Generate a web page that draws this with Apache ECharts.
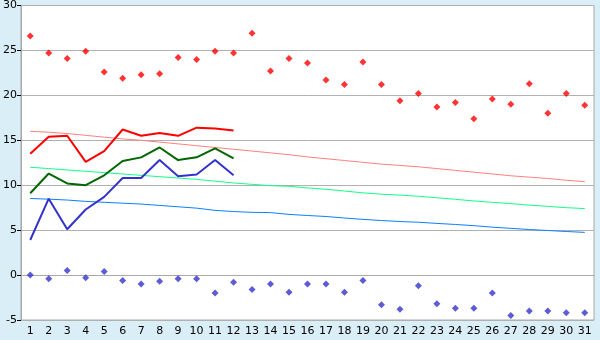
<!DOCTYPE html>
<html>
<head>
<meta charset="utf-8">
<script src="https://cdn.jsdelivr.net/npm/echarts@6/dist/echarts.min.js"></script>
<style>
  html, body { margin: 0; padding: 0; background: #d9eef6; }
  #temp-chart { width: 600px; height: 340px; }
</style>
</head>
<body>
<div id="temp-chart"></div>
<script>
const days = ['1', '2', '3', '4', '5', '6', '7', '8', '9', '10', '11', '12', '13', '14', '15', '16',
  '17', '18', '19', '20', '21', '22', '23', '24', '25', '26', '27', '28', '29', '30', '31'];
const yTicks = [-5, 0, 5, 10, 15, 20, 25, 30];

// record highs / lows (dots)
const recordMax = [26.6, 24.7, 24.1, 24.9, 22.6, 21.9, 22.3, 22.4, 24.2, 24.0, 24.9, 24.7, 26.9, 22.7, 24.1, 23.6,
  21.7, 21.2, 23.7, 21.2, 19.4, 20.2, 18.7, 19.2, 17.4, 19.6, 19.0, 21.3, 18.0, 20.2, 18.9];
const recordMin = [0.0, -0.4, 0.5, -0.3, 0.4, -0.6, -1.0, -0.7, -0.4, -0.4, -2.0, -0.8, -1.6, -1.0, -1.9, -1.0,
  -1.0, -1.9, -0.6, -3.3, -3.8, -1.2, -3.2, -3.7, -3.7, -2.0, -4.5, -4.0, -4.0, -4.2, -4.2];

// current month (days 1-12)
const curMax = [13.5, 15.4, 15.5, 12.6, 13.8, 16.2, 15.5, 15.8, 15.5, 16.4, 16.3, 16.1];
const curMean = [9.1, 11.3, 10.2, 10.0, 11.1, 12.7, 13.1, 14.2, 12.8, 13.1, 14.1, 13.0];
const curMin = [3.9, 8.5, 5.1, 7.3, 8.7, 10.8, 10.8, 12.8, 11.0, 11.2, 12.8, 11.1];

// normals
const normMax = [16.0, 15.9, 15.75, 15.55, 15.35, 15.15, 15.0, 14.8, 14.6, 14.4, 14.2, 14.0, 13.8, 13.6, 13.4, 13.15,
  12.95, 12.75, 12.55, 12.35, 12.2, 12.05, 11.85, 11.65, 11.45, 11.25, 11.05, 10.9, 10.75, 10.55, 10.4];
const normMean = [12.0, 11.85, 11.7, 11.55, 11.4, 11.25, 11.1, 10.95, 10.8, 10.65, 10.45, 10.25, 10.1, 9.95, 9.88, 9.7,
  9.55, 9.35, 9.15, 9.0, 8.9, 8.77, 8.6, 8.43, 8.25, 8.1, 7.95, 7.78, 7.65, 7.5, 7.4];
const normMin = [8.52, 8.45, 8.35, 8.2, 8.1, 8.0, 7.9, 7.75, 7.6, 7.45, 7.2, 7.07, 6.98, 6.95, 6.75, 6.63,
  6.52, 6.35, 6.2, 6.07, 5.96, 5.88, 5.75, 5.63, 5.5, 5.33, 5.2, 5.07, 4.96, 4.85, 4.75];

const chartDom = document.getElementById('temp-chart');
const myChart = echarts.init(chartDom, null, { renderer: 'canvas' });

function lineSeries(data, color, width) {
  return {
    type: 'line',
    data: data,
    symbol: 'none',
    silent: true,
    z: width > 1 ? 4 : 3,
    lineStyle: { color: color, width: width }
  };
}

function dotSeries(data, color) {
  return {
    type: 'scatter',
    data: data,
    symbol: 'diamond',
    symbolSize: 7,
    z: 5,
    itemStyle: { color: color }
  };
}

const option = {
  backgroundColor: '#d9eef6',
  animation: false,
  textStyle: { fontFamily: 'DejaVu Sans', color: '#000' },
  grid: {
    left: 20, right: 6, top: 5, bottom: 20,
    show: true,
    backgroundColor: '#ffffff',
    borderColor: '#a8a8a8',
    borderWidth: 1
  },
  xAxis: {
    type: 'category',
    data: days,
    boundaryGap: true,
    axisLine: { lineStyle: { color: '#a8a8a8' } },
    axisTick: { alignWithLabel: true, length: 5, lineStyle: { color: '#000' } },
    axisLabel: { color: '#000', fontSize: 11, margin: 6, interval: 0 },
    splitLine: { show: false }
  },
  yAxis: {
    type: 'value',
    min: yTicks[0],
    max: yTicks[yTicks.length - 1],
    interval: 5,
    axisLine: { show: true, lineStyle: { color: '#a8a8a8' } },
    axisTick: { show: true, length: 4, lineStyle: { color: '#000' } },
    axisLabel: { color: '#000', fontSize: 11, margin: 4 },
    splitLine: { lineStyle: { color: '#b0b0b0', width: 1 } }
  },
  series: [
    lineSeries(normMax, '#ff8080', 1),
    lineSeries(normMean, '#11ff88', 1),
    lineSeries(normMin, '#0a80ff', 1),
    lineSeries(curMax, '#ff0000', 2),
    lineSeries(curMean, '#006600', 2),
    lineSeries(curMin, '#3333cc', 2),
    dotSeries(recordMax, '#ff0000'),
    dotSeries(recordMin, '#3333cc')
  ]
};
option && myChart.setOption(option);
window.addEventListener('resize', function () {
  myChart.resize();
});
</script>
</body>
</html>
